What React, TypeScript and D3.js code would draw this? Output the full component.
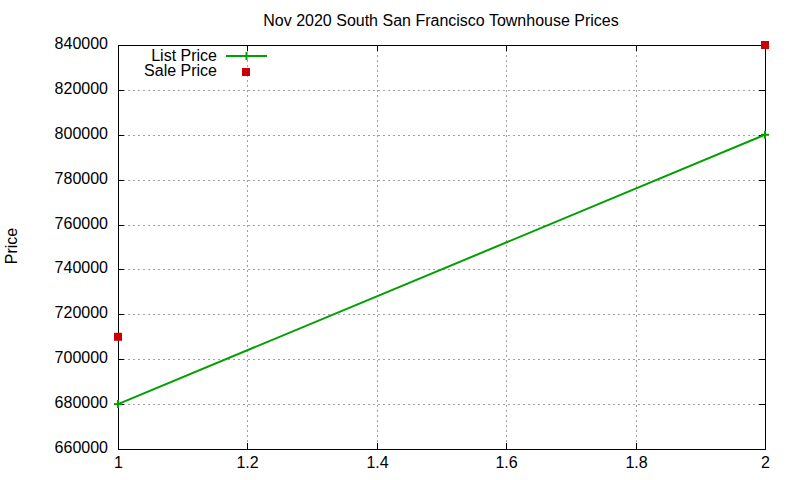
import React, { useEffect, useRef } from 'react';
import * as d3 from 'd3';

const title = 'Nov 2020 South San Francisco Townhouse Prices';
const yLabel = 'Price';

const xValues = [1, 2];
const listPrice = [680000, 800000];
const salePrice = [710000, 840000];

const xTicks = [1, 1.2, 1.4, 1.6, 1.8, 2];
const yTicks = [660000, 680000, 700000, 720000, 740000, 760000, 780000, 800000, 820000, 840000];

const GREEN = '#00a000';
const RED = '#cc0000';
const FONT = '"Liberation Sans", Arial, sans-serif';
const FS = '16px';

export default function App() {
  const svgRef = useRef<SVGSVGElement>(null);

  useEffect(() => {
    if (!svgRef.current) return;
    const svg = d3.select(svgRef.current);
    svg.selectAll('*').remove();

    const width = 800;
    const height = 480;
    const margin = { top: 45, right: 35, bottom: 31, left: 118 };
    const innerWidth = width - margin.left - margin.right;
    const innerHeight = height - margin.top - margin.bottom;

    svg.append('rect').attr('width', width).attr('height', height).attr('fill', '#fff');

    const xScale = d3.scaleLinear().domain([1, 2]).range([0, innerWidth]);
    const yScale = d3.scaleLinear().domain([660000, 840000]).range([innerHeight, 0]);

    const g = svg.append('g').attr('transform', `translate(${margin.left},${margin.top})`);

    // grid
    g.append('g')
      .selectAll('line')
      .data(xTicks.slice(1, -1))
      .enter()
      .append('line')
      .attr('x1', d => Math.round(xScale(d)) + 0.5)
      .attr('x2', d => Math.round(xScale(d)) + 0.5)
      .attr('y1', 0)
      .attr('y2', innerHeight)
      .attr('stroke', '#a0a0a0')
      .attr('stroke-width', 1)
      .attr('stroke-dasharray', '2,3');

    g.append('g')
      .selectAll('line')
      .data(yTicks.slice(1, -1))
      .enter()
      .append('line')
      .attr('x1', 0)
      .attr('x2', innerWidth)
      .attr('y1', d => Math.round(yScale(d)) + 0.5)
      .attr('y2', d => Math.round(yScale(d)) + 0.5)
      .attr('stroke', '#a0a0a0')
      .attr('stroke-width', 1)
      .attr('stroke-dasharray', '2,3');

    // ticks (inward, mirrored)
    const tickLen = 6;
    yTicks.forEach(t => {
      const y = Math.round(yScale(t)) + 0.5;
      g.append('line').attr('x1', 0).attr('x2', tickLen).attr('y1', y).attr('y2', y).attr('stroke', '#000');
      g.append('line').attr('x1', innerWidth - tickLen).attr('x2', innerWidth).attr('y1', y).attr('y2', y).attr('stroke', '#000');
      g.append('text')
        .attr('x', -10)
        .attr('y', y + 3.5)
        .attr('text-anchor', 'end')
        .attr('font-family', FONT)
        .style('font-size', FS)
        .style('fill', '#000')
        .text(String(t));
    });

    xTicks.forEach(t => {
      const x = Math.round(xScale(t)) + 0.5;
      g.append('line').attr('x1', x).attr('x2', x).attr('y1', innerHeight).attr('y2', innerHeight - tickLen).attr('stroke', '#000');
      g.append('line').attr('x1', x).attr('x2', x).attr('y1', 0).attr('y2', tickLen).attr('stroke', '#000');
      g.append('text')
        .attr('x', x)
        .attr('y', innerHeight + 19)
        .attr('text-anchor', 'middle')
        .attr('font-family', FONT)
        .style('font-size', FS)
        .style('fill', '#000')
        .text(d3.format('')(t));
    });

    // border
    g.append('rect')
      .attr('x', 0.5)
      .attr('y', 0.5)
      .attr('width', innerWidth)
      .attr('height', innerHeight)
      .attr('fill', 'none')
      .attr('stroke', '#000')
      .attr('stroke-width', 1);

    // list price line
    const line = d3.line<number>()
      .x((_, i) => xScale(xValues[i]))
      .y(d => yScale(d));

    g.append('path')
      .datum(listPrice)
      .attr('d', line)
      .attr('fill', 'none')
      .attr('stroke', GREEN)
      .attr('stroke-width', 2);

    const plus = (sel: any, cx: number, cy: number) => {
      sel.append('line').attr('x1', cx - 4).attr('x2', cx + 4).attr('y1', cy).attr('y2', cy).attr('stroke', GREEN).attr('stroke-width', 2);
      sel.append('line').attr('x1', cx).attr('x2', cx).attr('y1', cy - 4).attr('y2', cy + 4).attr('stroke', GREEN).attr('stroke-width', 2);
    };

    listPrice.forEach((v, i) => plus(g, xScale(xValues[i]), yScale(v)));

    salePrice.forEach((v, i) => {
      g.append('rect')
        .attr('x', xScale(xValues[i]) - 4)
        .attr('y', yScale(v) - 4)
        .attr('width', 8)
        .attr('height', 8)
        .attr('fill', RED);
    });

    // legend
    const legend = svg.append('g');
    legend.append('text')
      .attr('x', 217)
      .attr('y', 60.5)
      .attr('text-anchor', 'end')
      .attr('font-family', FONT)
      .style('font-size', FS)
      .text('List Price');
    legend.append('line')
      .attr('x1', 226).attr('x2', 267).attr('y1', 56).attr('y2', 56)
      .attr('stroke', GREEN).attr('stroke-width', 2);
    plus(legend, 246.5, 56);

    legend.append('text')
      .attr('x', 217)
      .attr('y', 76)
      .attr('text-anchor', 'end')
      .attr('font-family', FONT)
      .style('font-size', FS)
      .text('Sale Price');
    legend.append('rect')
      .attr('x', 242).attr('y', 68).attr('width', 8).attr('height', 8)
      .attr('fill', RED);

    // title
    svg.append('text')
      .attr('x', 441)
      .attr('y', 26)
      .attr('text-anchor', 'middle')
      .attr('font-family', FONT)
      .style('font-size', FS)
      .style('fill', '#000')
      .text(title);

    svg.append('text')
      .attr('transform', 'rotate(-90)')
      .attr('x', -246)
      .attr('y', 17)
      .attr('text-anchor', 'middle')
      .attr('font-family', FONT)
      .style('font-size', FS)
      .style('fill', '#000')
      .text(yLabel);
  }, []);

  return (
    <svg
      ref={svgRef}
      width={800}
      height={480}
      style={{ position: 'absolute', left: 0, top: 0, display: 'block' }}
    />
  );
}
